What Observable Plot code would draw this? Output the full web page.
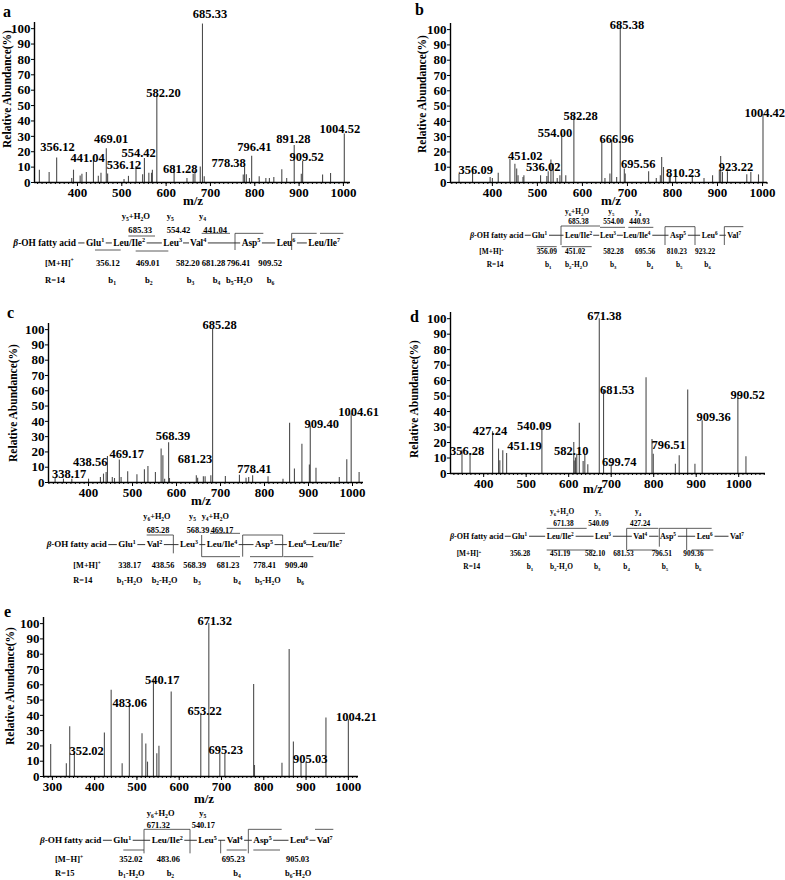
<!DOCTYPE html>
<html><head><meta charset="utf-8">
<script src="https://cdn.jsdelivr.net/npm/d3@7"></script>
<script src="https://cdn.jsdelivr.net/npm/@observablehq/plot@0.6"></script>
<style>
body{margin:0;background:#fff}
#fig{position:relative;width:785px;height:880px;overflow:hidden;font-family:'Liberation Serif','Times New Roman',serif}
.panel{position:absolute}
#overlay{position:absolute;left:0;top:0;pointer-events:none}
</style>
</head><body><div id="fig"></div>
<script>
// ---------- spectra data: [m/z, relative abundance] ----------
const peaksA = [[314,8],[336,6.5],[353,16],[387,2.6],[391,8],[406,4.3],[410,5.4],[420,6.5],[436,17],[447,4],[453,6],[465,22],[468,5.5],[505,2],[515,4],[532,10.4],[547,5],[551,15.6],[561,6],[567,6],[569,8],[579,56.5],[618,10],[647,2.6],[661,5.4],[665,7.6],[677,10],[682,103],[686,3.7],[774,4.8],[777,10],[781,5],[788,2.6],[793,17],[810,3.7],[825,2.6],[833,2.6],[843,3.3],[861,8.3],[872,2.6],[889,24],[905,5.4],[908,13.7],[953,4.8],[971,5.9],[1002,31.5]];
const peaksB = [[326,5.5],[356,7.7],[395,3.3],[400,2.6],[413,6],[439,15],[450,12],[454,8.8],[457,4.4],[468,3.3],[470,4.4],[507,4.4],[521,4],[524,7],[530,14.7],[535,12],[544,2.6],[550,4.4],[554,31.7],[563,4.4],[581,43.8],[643,27.4],[650,2.6],[661,5.5],[665,27.4],[676,3.3],[684,103],[693,8.8],[695,5.5],[747,7],[764,2.6],[773,4.4],[776,16.4],[780,9.8],[793,4.4],[795,4.4],[807,4.4],[844,4.4],[870,2.6],[889,4.4],[904,7.7],[907,17],[911,6.6],[922,7],[965,5],[974,6.6],[991,5],[1001,44.4]];
const peaksC = [[324,2.6],[343,2.2],[362,2.2],[400,2.2],[427,3.3],[434,5.5],[440,6.6],[443,17],[454,3.3],[459,2.6],[470,14.7],[474,3.3],[489,7],[510,5],[527,8.3],[535,10.5],[552,6.6],[565,21.9],[569,17.5],[573,2.2],[582,26],[584,2.6],[645,4.4],[648,2.8],[661,3.7],[665,3.7],[678,4.4],[682,100],[711,4],[743,4.8],[758,2.8],[764,3.3],[773,4.4],[808,3.7],[842,2.2],[857,38.7],[868,8.8],[885,25],[902,11.4],[904,37],[917,9.4],[970,3.3],[987,14.9],[997,44.9],[1015,6.6]];
const peaksD = [[349,15],[368,13],[421,27],[435,15.8],[438,8.2],[445,14.7],[454,13],[537,32],[612,20],[613,8],[616,10],[619,12.5],[625,32.4],[634,7.8],[638,12.5],[645,5.6],[672,100],[682,53.5],[700,6],[782,61.8],[796,22],[799,12.5],[851,6],[860,11.4],[880,54],[897,6],[914,34],[998,51.4],[1017,10.8]];
const peaksE = [[296,21],[333,8.3],[341,32.6],[352,15],[423,28.4],[439,56.4],[465,8.3],[482,46.5],[512,27.9],[521,21.2],[525,9.4],[539,63.5],[547,14.8],[552,19.8],[581,55.2],[651,40.9],[670,100],[696,14.8],[708,14.8],[776,60.1],[778,7.2],[843,8.7],[860,83],[870,22.5],[888,9.4],[900,9.4],[947,38.2],[1000,37.2]];

// ---------- peak labels: [text, m/z at label centre, abundance at label baseline] ----------
const labelsA = [["685.33",699,107],["582.20",594,55.4],["356.12",355,20.6],["441.04",423,13.5],["469.01",476,26],["554.42",538,16.3],["536.12",505,8.7],["681.28",632,5.9],["796.41",799,20.6],["778.38",741,9.8],["891.28",887,26],["909.52",917,14],["1004.52",992,32]];
const labelsB = [["685.38",699,100.7],["582.28",596,41],["554.00",539,29.5],["666.96",676,26],["451.02",473,15],["356.09",363,5.5],["536.02",513,7.7],["695.56",724,9.4],["810.23",824,3.3],["923.22",941,7.7],["1004.42",1005,42.7]];
const labelsC = [["685.28",698,100.7],["568.39",592,27.8],["469.17",487,15.8],["438.56",404,10.6],["338.17",356,3.0],["681.23",642,12.7],["778.41",777,6.1],["909.40",930,35.4],["1004.61",1014,43.8]];
const labelsD = [["671.38",684,99],["681.53",714,51.4],["990.52",1021,48],["909.36",941,33.7],["540.09",519,28],["427.24",415,25],["451.19",496,15],["356.28",361,12],["582.10",606,12],["699.74",719,5],["796.51",835,15.8]];
const labelsE = [["671.32",684,99.3],["540.17",560,60.7],["483.06",483,45.4],["653.22",660,40.4],["1004.21",1019,36.2],["352.02",381,14],["695.23",710,14.8],["905.03",910,9]];

const ticksMain = [400,500,600,700,800,900,1000];
const ticksE = [300,400,500,600,700,800,900,1000];
const yTicks = [0,10,20,30,40,50,60,70,80,90,100];

const FONT = "'Liberation Serif','Times New Roman',serif";
const fig = document.getElementById("fig");

function spectrum(cfg){
  const data = cfg.peaks.map(([mz,ab])=>({mz,ab}));
  const lab = cfg.labels.map(([text,mz,ab])=>({text,mz,ab}));
  const minor = d3.range(Math.ceil(cfg.domain[0]/10)*10, cfg.domain[1], 10);
  const svg = Plot.plot({
    width: cfg.w, height: cfg.h,
    marginLeft: cfg.ml, marginRight: cfg.mr, marginTop: cfg.mt, marginBottom: cfg.mb,
    x: {domain: cfg.domain, label: null},
    y: {domain: [0,104], label: null},
    style: {fontFamily: FONT, fontWeight: "bold", fontSize: "13px", color: "#000", background: "transparent", overflow: "visible"},
    marks: [
      Plot.ruleX(data, {x: "mz", y1: 0, y2: "ab", stroke: "#4d4d4d", strokeWidth: 1.1}),
      Plot.axisX({ticks: minor, tickSize: 2, tickFormat: () => "", stroke: "#000"}),
      Plot.axisX({ticks: cfg.ticks, tickSize: 4, tickPadding: 1, fontSize: 13, fontWeight: "bold", tickFormat: d => String(d)}),
      Plot.axisY({ticks: yTicks, tickSize: 3, tickPadding: 1, fontSize: 13, fontWeight: "bold", tickFormat: d => String(d)}),
      Plot.ruleY([0], {stroke: "#000", strokeWidth: 1.4}),
      Plot.ruleX([cfg.domain[0]], {y1: 0, y2: 104, stroke: "#000", strokeWidth: 1.4}),
      Plot.text(lab, {x: "mz", y: "ab", text: "text", fontSize: 12.5, fontWeight: "bold", lineAnchor: "bottom", fill: "#000"})
    ]
  });
  const div = document.createElement("div");
  div.className = "panel";
  div.style.left = cfg.left + "px"; div.style.top = cfg.top + "px"; div.style.width = cfg.w + "px";
  div.appendChild(svg);
  fig.appendChild(div);
}

spectrum({peaks: peaksA, labels: labelsA, domain: [303,1016], ticks: ticksMain, left: 0, top: 0, w: 390, h: 215, ml: 34, mr: 40, mt: 22, mb: 33});
spectrum({peaks: peaksB, labels: labelsB, domain: [307,1011], ticks: ticksMain, left: 390, top: 0, w: 395, h: 215, ml: 60, mr: 18, mt: 23, mb: 33});
spectrum({peaks: peaksC, labels: labelsC, domain: [309,1025], ticks: ticksMain, left: 0, top: 290, w: 390, h: 230, ml: 48, mr: 27, mt: 33, mb: 38});
spectrum({peaks: peaksD, labels: labelsD, domain: [322,1063], ticks: ticksMain, left: 390, top: 290, w: 395, h: 220, ml: 60, mr: 20, mt: 22, mb: 37});
spectrum({peaks: peaksE, labels: labelsE, domain: [279,1024], ticks: ticksE, left: 0, top: 590, w: 390, h: 230, ml: 43, mr: 32, mt: 27, mb: 44});

// ---------- annotation overlay ----------
const ov = d3.select(fig).append("svg").attr("id","overlay").attr("width",785).attr("height",880)
  .style("font-family", FONT).style("font-weight","bold").attr("fill","#000");

function rich(g, str, x, y, fs, anchor){
  const t = g.append("text").attr("x", x).attr("y", y).attr("font-size", fs).attr("text-anchor", anchor || "start");
  const parts = str.split(/([\^_](?:\{[^}]*\}|\S))/).filter(s => s !== "");
  let cur = 0;
  for (const p of parts){
    let target = 0, txt = p, size = fs;
    if (p[0] === "^" || p[0] === "_"){
      txt = p.slice(1).replace(/[{}]/g, "");
      size = fs * 0.66;
      target = p[0] === "^" ? -fs * 0.38 : fs * 0.22;
    }
    for (const s of txt.split(/(β)/).filter(s => s)){
      const ts = t.append("tspan").attr("dy", target - cur).attr("font-size", size).text(s);
      if (s === "β") ts.attr("font-style", "italic");
      cur = target;
    }
  }
  return t;
}

// panel letters
[["a",3,17],["b",415,15],["c",7,318],["d",410,322],["e",4,617]].forEach(([s,x,y]) =>
  ov.append("text").attr("x",x).attr("y",y).attr("font-size",16).text(s));
// y titles
[[7,89],[422,94],[13,403],[414,399],[10,686]].forEach(([x,y]) =>
  ov.append("text").attr("transform",`translate(${x},${y}) rotate(-90)`).attr("text-anchor","middle")
    .attr("dy","0.35em").attr("font-size",11.5).text("Relative Abundance(%)"));
// x titles
[[193,205],[611,205],[201,505],[593,493],[204,803]].forEach(([x,y]) =>
  ov.append("text").attr("x",x).attr("y",y).attr("text-anchor","middle").attr("font-size",13).text("m/z"));

// ---------- fragmentation diagrams (coordinates in 1/3 px from each diagram origin) ----------
const diagrams = [
 {ox:0, oy:200, fs:9.4,
  rows:[[48,[["y_5+H_2O",365],["y_5",500],["y_4",597]]],
        [90,[["685.33",385],["554.42",500],["441.04",610]]],
        [188,[["[M+H]^+",135],["356.12",288],["469.01",408],["582.20",528],["681.28",605],["796.41",680],["909.52",775]]],
        [240,[["R=14",135],["b_1",325],["b_2",435],["b_3",560],["b_4",638],["b_5-H_2O",678],["b_6",800]]]],
  chain:[128,[["β-OH fatty acid",40],["Glu^1",258],["Leu/Ile^2",340],["Leu^3",490],["Val^4",570],["Asp^5",725],["Leu^6",830],["Leu/Ile^7",925]]],
  lines:[[385,108,465,108],[605,100,690,100],[705,100,705,150],[705,100,790,100],[875,100,875,150],[875,100,950,100],[960,100,1030,100],[285,150,362,150],[407,153,505,153]]},
 {ox:390, oy:200, fs:8,
  rows:[[35,[["y_6+H_2O",525],["y_5",655],["y_4",735]]],
        [65,[["685.38",535],["554.00",640],["440.93",718]]],
        [155,[["[M+H]^+",268],["356.09",440],["451.02",525],["582.28",640],["695.56",735],["810.23",830],["923.22",915]]],
        [195,[["R=14",290],["b_1",465],["b_2-H_2O",525],["b_3",660],["b_4",770],["b_5",858],["b_6",943]]]],
  chain:[105,[["β-OH fatty acid",240],["Glu^1",425],["Leu/Ile^2",525],["Leu^3",630],["Leu/Ile^4",700],["Asp^5",840],["Leu^6",935],["Val^7",1012]]],
  lines:[[513,78,630,78],[513,78,513,135],[630,82,705,82],[715,82,790,82],[825,80,825,135],[825,80,915,80],[915,80,915,135],[1003,80,1003,135],[1003,80,1060,80],[440,140,500,140],[515,140,605,140]]},
 {ox:0, oy:500, fs:9,
  rows:[[48,[["y_6+H_2O",430],["y_5",567],["y_4+H_2O",605]]],
        [90,[["685.28",440],["568.39",560],["469.17",632]]],
        [195,[["[M+H]^+",220],["338.17",355],["438.56",455],["568.39",550],["681.23",650],["778.41",760],["909.40",855]]],
        [240,[["R=14",220],["b_1-H_2O",350],["b_2-H_2O",455],["b_3",580],["b_4",700],["b_5-H_2O",765],["b_6",890]]]],
  chain:[133,[["β-OH fatty acid",140],["Glu^1",355],["Val^2",440],["Leu^3",540],["Leu/Ile^4",620],["Asp^5",765],["Leu^6",865],["Leu/Ile^7",935]]],
  lines:[[440,105,520,105],[520,105,520,160],[630,100,720,100],[605,105,605,170],[605,170,720,170],[728,105,848,105],[728,105,728,170],[848,105,848,170],[750,170,848,170],[850,170,940,170],[940,100,1035,100]]},
 {ox:390, oy:500, fs:8,
  rows:[[35,[["y_6+H_2O",480],["y_5",615],["y_4",735]]],
        [70,[["671.38",490],["540.09",595],["427.24",720]]],
        [160,[["[M+H]^+",200],["356.28",360],["451.19",480],["582.10",585],["681.53",670],["796.51",785],["909.36",880]]],
        [200,[["R=14",220],["b_1",410],["b_2-H_2O",480],["b_3",612],["b_4",700],["b_5",815],["b_6",915]]]],
  chain:[108,[["β-OH fatty acid",180],["Glu^1",365],["Leu/Ile^2",470],["Leu^3",615],["Val^4",730],["Asp^5",810],["Leu^6",920],["Val^7",1020]]],
  lines:[[470,85,590,85],[470,150,610,150],[710,85,710,150],[710,85,805,85],[715,150,800,150],[808,85,808,140],[808,85,890,85],[890,85,890,150],[890,85,965,85],[905,150,970,150]]},
 {ox:0, oy:790, fs:9.2,
  rows:[[70,[["y_6+H_2O",440],["y_5",598]]],
        [105,[["671.32",440],["540.17",575]]],
        [207,[["[M−H]^+",165],["352.02",358],["483.06",470],["695.23",665],["905.03",858]]],
        [250,[["R=15",165],["b_1-H_2O",355],["b_2",500],["b_4",700],["b_6-H_2O",855]]]],
  chain:[150,[["β-OH fatty acid",120],["Glu^1",340],["Leu/Ile^2",455],["Leu^5",595],["Val^4",680],["Asp^5",760],["Leu^6",870],["Val^7",950]]],
  lines:[[432,118,432,190],[432,118,570,118],[570,118,570,190],[370,180,432,180],[662,150,662,190],[745,118,745,190],[745,118,845,118],[680,180,740,180],[760,180,840,180],[945,118,1000,118]]}
];

diagrams.forEach(dg => {
  const g = ov.append("g").attr("transform", `translate(${dg.ox},${dg.oy})`);
  const fsSmall = dg.fs * 0.92;
  dg.rows.forEach(([cy, items]) => items.forEach(([s, zx]) => rich(g, s, zx/3, cy/3 + fsSmall*0.33, fsSmall)));
  const [ccy, citems] = dg.chain;
  const base = ccy/3 + dg.fs*0.33;
  const nodes = citems.map(([s, zx]) => rich(g, s, zx/3, base, dg.fs));
  for (let i = 0; i < nodes.length - 1; i++){
    const b = nodes[i].node().getBBox();
    const a0 = b.x + b.width, a1 = citems[i+1][1]/3;
    const mid = (a0 + a1) / 2;
    const half = Math.max((a1 - a0) / 2 - 1.5, 3);
    g.append("line").attr("x1", mid - half).attr("x2", mid + half).attr("y1", base - dg.fs*0.3).attr("y2", base - dg.fs*0.3)
      .attr("stroke", "#000").attr("stroke-width", 0.8);
  }
  dg.lines.forEach(([x1,y1,x2,y2]) => g.append("line").attr("x1",x1/3).attr("y1",y1/3).attr("x2",x2/3).attr("y2",y2/3)
    .attr("stroke","#333").attr("stroke-width",0.8));
});
</script>
</body></html>
